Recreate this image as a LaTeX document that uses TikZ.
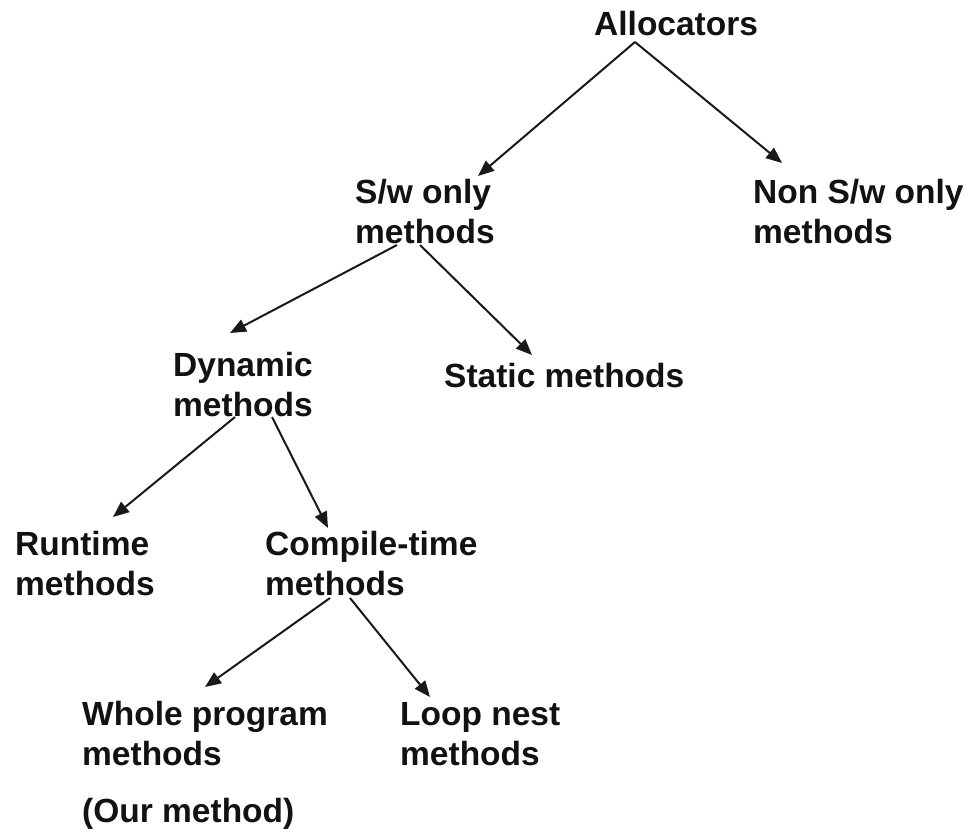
\documentclass[tikz,border=0pt]{standalone}
\usepackage{fontspec}
\setmainfont{Liberation Sans}
\usetikzlibrary{arrows.meta}
\begin{document}
\begin{tikzpicture}[x=1pt,y=-1pt,
  label/.style={anchor=base west,inner sep=0pt,align=left,text=black!93,
    font=\fontsize{33.5pt}{40pt}\selectfont\bfseries},
  link/.style={line width=2pt,black!90,-{Triangle[length=16pt,width=13pt]}}]
\useasboundingbox[fill=white] (0,0) rectangle (971,838);

% category labels (base anchor sits on the last line)
\node[label] (alloc)   at (594,35)  {Allocators};
\node[label] (sw)      at (355,243) {S/w only\\methods};
\node[label] (nonsw)   at (753,243) {Non S/w only\\methods};
\node[label] (dyn)     at (173,416) {Dynamic\\methods};
\node[label] (static)  at (444,387) {Static methods};
\node[label] (runtime) at (15,595)  {Runtime\\methods};
\node[label] (compile) at (265,595) {Compile-time\\methods};
\node[label] (whole)   at (82,765)  {Whole program\\methods};
\node[label] (loop)    at (400,765) {Loop nest\\methods};
\node[label] (ours)    at (82,822)  {(Our method)};

% connector end points
\coordinate (alloc-out)  at (635,42);
\coordinate (sw-in)      at (478,176);
\coordinate (nonsw-in)   at (782,163);
\coordinate (sw-outl)    at (397,245);
\coordinate (sw-outr)    at (420,245);
\coordinate (dyn-in)     at (230,333);
\coordinate (static-in)  at (532,355);
\coordinate (dyn-outl)   at (235,417);
\coordinate (dyn-outr)   at (272,417);
\coordinate (runtime-in) at (113,517);
\coordinate (compile-in) at (328,528);
\coordinate (comp-outl)  at (330,598);
\coordinate (comp-outr)  at (350,598);
\coordinate (whole-in)   at (205,687);
\coordinate (loop-in)    at (430,697);

% tree edges
\draw[link] (alloc-out) -- (sw-in);
\draw[link] (alloc-out) -- (nonsw-in);
\draw[link] (sw-outl) -- (dyn-in);
\draw[link] (sw-outr) -- (static-in);
\draw[link] (dyn-outl) -- (runtime-in);
\draw[link] (dyn-outr) -- (compile-in);
\draw[link] (comp-outl) -- (whole-in);
\draw[link] (comp-outr) -- (loop-in);
\end{tikzpicture}
\end{document}
